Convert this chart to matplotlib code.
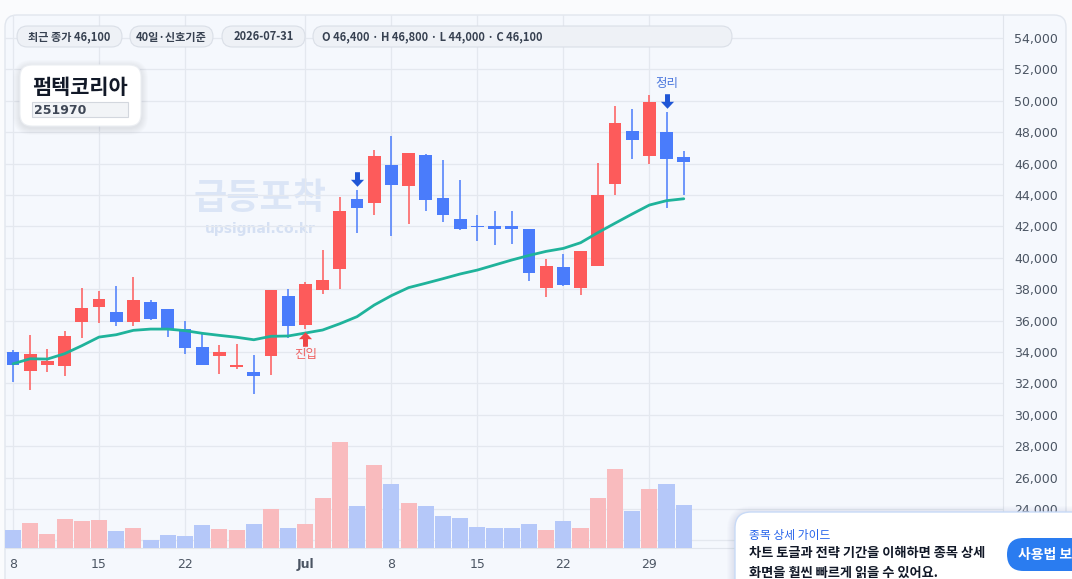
import numpy as np
import pandas as pd
import matplotlib
matplotlib.use("Agg")
import matplotlib.pyplot as plt
from matplotlib.patches import FancyBboxPatch, Rectangle
from matplotlib.path import Path
from matplotlib.ticker import FuncFormatter

plt.rcParams['font.family'] = ['DejaVu Sans', 'Noto Sans CJK KR']
KR = ['Noto Sans CJK KR', 'DejaVu Sans']

W, H = 1072, 579

# 2026-06-08 ~ 2026-07-31 거래일 40개
dates = pd.bdate_range('2026-06-08', '2026-07-31')
opens = [34000, 32800, 33200, 33100, 35900, 36850, 36550, 35900, 37200, 36750,
         35450, 34300, 33750, 33050, 32750, 33750, 37550, 35700, 37950, 39300,
         43750, 43500, 45900, 44550, 46550, 43800, 42450, 42000, 42000, 42000,
         41850, 38050, 39400, 38050, 39450, 44700, 48100, 46500, 48000, 46400]
highs = [34150, 35100, 34200, 35350, 38100, 37900, 38200, 38800, 37300, 36750,
         35950, 35250, 34450, 34500, 33800, 37950, 38000, 38450, 40500, 43850,
         44300, 46850, 47750, 46700, 46600, 46250, 44950, 42750, 43000, 43000,
         41850, 39900, 40250, 40450, 46050, 49700, 49500, 50350, 49300, 46800]
lows = [32100, 31550, 32750, 32500, 34900, 35850, 35650, 35650, 36050, 34950,
        33900, 33150, 32600, 32900, 31300, 32550, 34900, 35450, 37700, 38000,
        41600, 42750, 41400, 42150, 43000, 42300, 41750, 41100, 40800, 40850,
        38550, 37500, 38200, 37650, 39450, 44000, 46300, 46000, 43200, 44000]
closes = [33200, 33850, 33450, 35000, 36800, 37400, 35900, 37300, 36100, 35450,
          34250, 33200, 34000, 33150, 32450, 37950, 35650, 38350, 38600, 43000,
          43150, 46500, 44650, 46650, 43650, 42750, 41850, 41950, 41850, 41850,
          39050, 39500, 38250, 40450, 44000, 48600, 47500, 49900, 46300, 46100]
ma_line = [33250, 33570, 33550, 33890, 34400, 34950, 35100, 35380, 35460, 35460,
           35360, 35190, 35060, 34940, 34780, 35000, 35020, 35210, 35400, 35800,
           36250, 36990, 37590, 38100, 38380, 38670, 38970, 39220, 39540, 39860,
           40150, 40410, 40600, 40960, 41600, 42200, 42790, 43360, 43640, 43760]
volumes = [162, 222, 123, 258, 243, 249, 150, 177, 72, 114,
           105, 204, 168, 159, 213, 348, 177, 213, 447, 951,
           375, 744, 573, 402, 375, 285, 267, 186, 177, 177,
           213, 159, 240, 177, 447, 708, 330, 528, 573, 384]  # 천주

tick_dates = ['2026-06-08', '2026-06-15', '2026-06-22', '2026-07-01',
              '2026-07-08', '2026-07-15', '2026-07-22', '2026-07-29']
tick_labels = ['8', '15', '22', 'Jul', '8', '15', '22', '29']
price_ticks = list(range(22000, 56000, 2000))

entry_idx = [17]       # 진입
warn_idx = [20]        # 중간 경고
exit_idx = [38]        # 정리

UP = '#fd5b5b'
DOWN = '#4a7cfb'

x = np.arange(len(dates))
o = np.array(opens); c = np.array(closes)
hi = np.array(highs); lo = np.array(lows)
up = c >= o

fig = plt.figure(figsize=(W / 100, H / 100), dpi=100, facecolor='#fafbfd')

def fpos(x0, y0, x1, y1):
    return [x0 / W, 1 - y1 / H, (x1 - x0) / W, (y1 - y0) / H]

# 바탕 카드
bg = fig.add_axes([0, 0, 1, 1], zorder=0)
bg.set_xlim(0, W); bg.set_ylim(H, 0); bg.axis('off')
bg.add_patch(FancyBboxPatch((5, 15), 1061, 620, boxstyle='round,pad=0,rounding_size=12',
                            fc='#f5f8fd', ec='#e1e6ee', lw=1))
bg.text(260, 198, '급등포착', family=KR, fontsize=26, fontweight='bold',
        color='#dbe5f6', ha='center', va='center')
bg.text(260, 229, 'upsignal.co.kr', fontsize=10, fontweight='bold',
        color='#d5e0f3', ha='center', va='center')

# 가격 축
ax = fig.add_axes(fpos(5, 15, 1003, 548), zorder=1)
ax.set_facecolor('none')
ax.set_xlim(-0.465, 57.56)
ax.set_ylim(21516, 55465)
ax.yaxis.tick_right()
ax.set_yticks(price_ticks)
ax.yaxis.set_major_formatter(FuncFormatter(lambda v, p: f'{int(v):,}'))
tick_idx = [dates.get_loc(pd.Timestamp(d)) for d in tick_dates]
ax.set_xticks(tick_idx)
ax.set_xticklabels(tick_labels)
for lbl in ax.get_xticklabels():
    if lbl.get_text() == 'Jul':
        lbl.set_fontweight('bold')
ax.tick_params(axis='both', length=0, labelsize=9, labelcolor='#4b5563')
ax.tick_params(axis='x', pad=7)
ax.tick_params(axis='y', pad=8)
ax.grid(True, color='#e4e8ef', lw=0.9)
ax.set_axisbelow(True)
for s in ['top', 'left']:
    ax.spines[s].set_visible(False)
for s in ['right', 'bottom']:
    ax.spines[s].set_color('#e1e5ec')

# 캔들
ax.vlines(x[up], lo[up], hi[up], color=UP, lw=1.1, zorder=3)
ax.vlines(x[~up], lo[~up], hi[~up], color=DOWN, lw=1.1, zorder=3)
body = np.maximum(np.abs(c - o), 70)
ax.bar(x[up], body[up], bottom=np.minimum(o, c)[up], width=0.74, color=UP, zorder=4)
ax.bar(x[~up], body[~up], bottom=np.minimum(o, c)[~up], width=0.74, color=DOWN, zorder=4)

# 이동평균
ax.plot(x, ma_line, color='#1fb39b', lw=2, zorder=5, solid_capstyle='round')

# 신호 화살표
arrow_dn = Path([(-0.17, 0.5), (0.17, 0.5), (0.17, -0.02), (0.45, -0.02), (0, -0.5),
                 (-0.45, -0.02), (-0.17, -0.02), (-0.17, 0.5)],
                [Path.MOVETO] + [Path.LINETO] * 6 + [Path.CLOSEPOLY])
arrow_up = Path([(vx, -vy) for vx, vy in arrow_dn.vertices], arrow_dn.codes)
ax.scatter(warn_idx, hi[warn_idx] + 700, marker=arrow_dn, s=110, color='#1f56d6', zorder=6, lw=0)
ax.scatter(exit_idx, hi[exit_idx] + 700, marker=arrow_dn, s=110, color='#1f56d6', zorder=6, lw=0)
ax.scatter(entry_idx, lo[entry_idx] - 650, marker=arrow_up, s=110, color='#ef4646', zorder=6, lw=0)
for i in exit_idx:
    ax.text(i, hi[i] + 1780, '정리', family=KR, fontsize=9, color='#4d79de',
            ha='center', va='center', zorder=6)
for i in entry_idx:
    ax.text(i, lo[i] - 1600, '진입', family=KR, fontsize=9, color='#ef6363',
            ha='center', va='center', zorder=6)

# 거래량
axv = fig.add_axes(fpos(5, 15, 1003, 548), zorder=2)
axv.set_facecolor('none')
axv.set_xlim(ax.get_xlim())
axv.set_ylim(0, max(volumes) * 533 / 105.7)
axv.axis('off')
vol = np.array(volumes)
axv.bar(x[up], vol[up], width=0.94, color='#f9bbbe', lw=0)
axv.bar(x[~up], vol[~up], width=0.94, color='#b5c8f9', lw=0)

# 위쪽 요약 칩, 종목 카드, 안내 팝업
ov = fig.add_axes([0, 0, 1, 1], zorder=5)
ov.set_xlim(0, W); ov.set_ylim(H, 0); ov.axis('off')

last = len(dates) - 1
chips = [
    (17, 122, f'최근 종가 {closes[last]:,}', 'center'),
    (130, 213, '40일·신호기준', 'center'),
    (222, 305, dates[last].strftime('%Y-%m-%d'), 'center'),
    (313, 732, f'O {opens[last]:,} · H {highs[last]:,} · L {lows[last]:,} · C {closes[last]:,}', 'left'),
]
for x0, x1, txt, ha in chips:
    ov.add_patch(FancyBboxPatch((x0, 26), x1 - x0, 21, boxstyle='round,pad=0,rounding_size=10.5',
                                fc='#eef1f6', ec='#dadfe7', lw=0.8))
    tx = (x0 + x1) / 2 if ha == 'center' else x0 + 9
    ov.text(tx, 37, txt, family=KR, fontsize=8, fontweight='bold', color='#374151',
            ha=ha, va='center')

# 종목 카드 그림자
for k in range(1, 8):
    ov.add_patch(FancyBboxPatch((20 - k, 67 - k), 121 + 2 * k, 61 + 2 * k,
                                boxstyle=f'round,pad=0,rounding_size={12 + k}',
                                fc='#1e293b', ec='none', alpha=0.012))
ov.add_patch(FancyBboxPatch((20, 65), 121, 61, boxstyle='round,pad=0,rounding_size=12',
                            fc='white', ec='#eceff3', lw=0.8))
ov.text(32, 87, '펌텍코리아', family=KR, fontsize=15, fontweight='bold', color='#111827',
        ha='left', va='center')
ov.add_patch(Rectangle((32, 102), 96, 15, fc='#f2f4f7', ec='#d3d7de', lw=0.8))
ov.text(34, 110, '251970', fontsize=9, fontweight='bold', color='#3f4756', ha='left', va='center')

# 안내 팝업
for k in range(1, 9):
    ov.add_patch(FancyBboxPatch((735 - k, 514 - k), 400 + 2 * k, 120 + 2 * k,
                                boxstyle=f'round,pad=0,rounding_size={16 + k}',
                                fc='#1e3a8a', ec='none', alpha=0.012))
ov.add_patch(FancyBboxPatch((735, 512), 400, 120, boxstyle='round,pad=0,rounding_size=16',
                            fc='white', ec='#c8daf7', lw=1))
ov.text(749, 535, '종목 상세 가이드', family=KR, fontsize=8.5, color='#2563eb',
        ha='left', va='center')
ov.text(749, 553, '차트 토글과 전략 기간을 이해하면 종목 상세', family=KR, fontsize=9.5,
        fontweight='bold', color='#111827', ha='left', va='center')
ov.text(749, 573, '화면을 훨씬 빠르게 읽을 수 있어요.', family=KR, fontsize=9.5,
        fontweight='bold', color='#111827', ha='left', va='center')
ov.add_patch(FancyBboxPatch((1007, 538), 130, 33, boxstyle='round,pad=0,rounding_size=16.5',
                            fc='#2a7cf0', ec='none'))
ov.text(1018, 555, '사용법 보기', family=KR, fontsize=10, fontweight='bold', color='white',
        ha='left', va='center')

fig.savefig('out.png', dpi=100, facecolor=fig.get_facecolor())
